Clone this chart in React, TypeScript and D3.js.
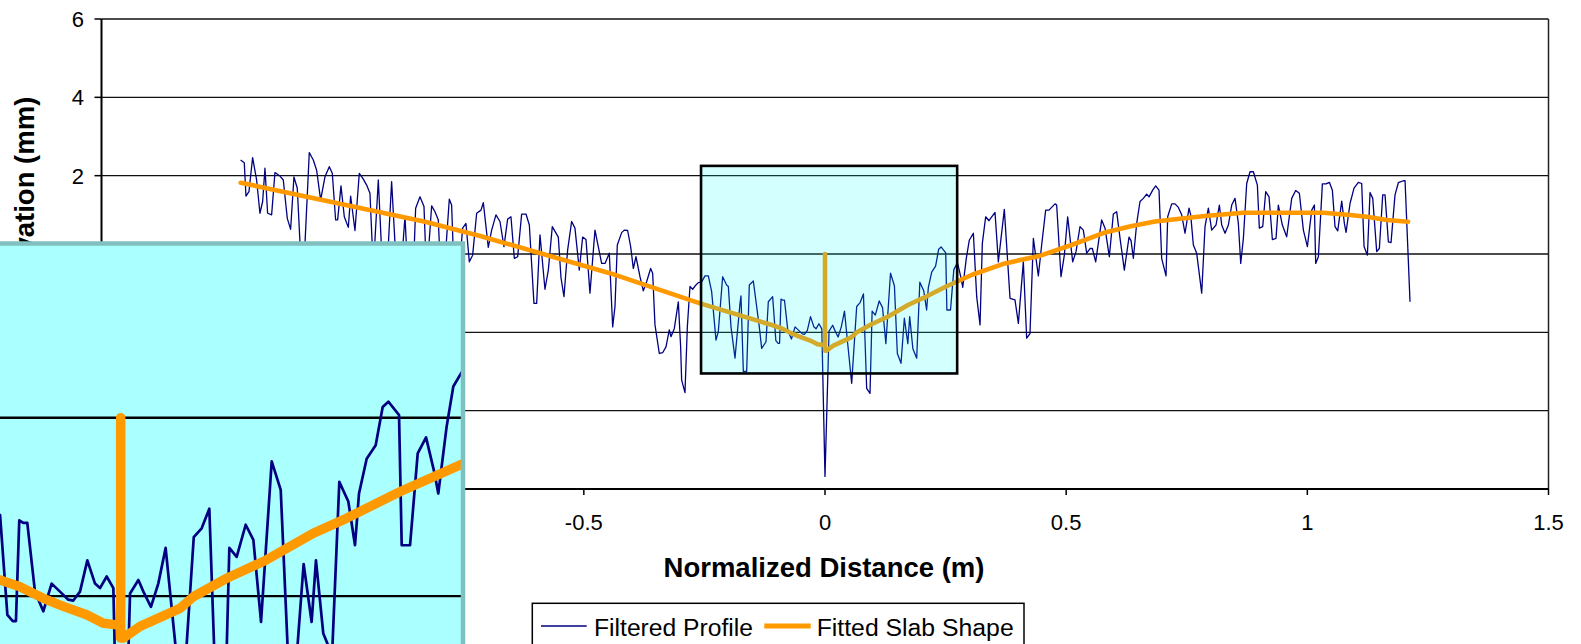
import React from "react";
import * as d3 from "d3";

// ---- data ----
const X_TICKS = [-1.5, -1, -0.5, 0, 0.5, 1, 1.5];
const Y_TICKS = [-6, -4, -2, 0, 2, 4, 6];
const X_TITLE = "Normalized Distance (m)";
const Y_TITLE = "Elevation (mm)";
const LEGEND = ["Filtered Profile", "Fitted Slab Shape"];
const BOX_X = [-0.257, 0.274];
const BOX_Y = [-3.05, 2.25];

const PROFILE: [number, number][] = [
  [-1.2116, 2.4], [-1.204, 2.33], [-1.2005, 1.48], [-1.1943, 1.59], [-1.1867, 2.46], [-1.1784, 1.89],
  [-1.1715, 1.04], [-1.1659, 1.34], [-1.1611, 2.19], [-1.1556, 1.04], [-1.1473, 1.0], [-1.1404, 2.08],
  [-1.13, 1.99], [-1.1231, 1.89], [-1.1148, 0.91], [-1.1079, 0.63], [-1.101, 1.97], [-1.0941, 1.68],
  [-1.0865, -0.2], [-1.0803, -0.3], [-1.0692, 2.59], [-1.0609, 2.4], [-1.054, 2.14], [-1.0457, 1.38],
  [-1.0367, 1.97], [-1.0277, 2.23], [-1.0215, 2.06], [-1.0146, 0.87], [-1.0104, 0.87], [-1.0035, 1.74],
  [-0.9966, 0.95], [-0.9883, 0.68], [-0.9835, 1.48], [-0.9745, 0.6], [-0.9655, 2.06], [-0.9572, 1.91],
  [-0.9503, 1.76], [-0.9434, 1.55], [-0.9365, -0.4], [-0.9261, 1.89], [-0.9178, -0.3], [-0.9088, -0.6],
  [-0.8985, 1.85], [-0.8881, -0.5], [-0.8777, -0.2], [-0.8708, 0.95], [-0.8653, -0.4], [-0.8536, -0.5],
  [-0.8487, 1.17], [-0.8397, 1.46], [-0.8314, 1.21], [-0.8259, -0.6], [-0.8155, 1.23], [-0.8086, 1.08],
  [-0.8017, 0.87], [-0.7969, -0.5], [-0.7879, -0.2], [-0.7789, 1.4], [-0.7741, 1.25], [-0.7685, -0.7],
  [-0.7582, -0.4], [-0.7513, 0.66], [-0.7444, 0.78], [-0.7374, -0.2], [-0.7305, -0.03], [-0.7222, 1.04],
  [-0.7132, 1.12], [-0.7084, 1.31], [-0.6981, 0.17], [-0.6911, 0.61], [-0.6822, 1.0], [-0.6739, 0.83],
  [-0.6656, 0.19], [-0.658, 0.89], [-0.6511, 0.95], [-0.6441, -0.11], [-0.6372, -0.07], [-0.6289, 1.02],
  [-0.6199, 1.02], [-0.613, 0.74], [-0.6034, -1.26], [-0.5978, -1.26], [-0.5909, 0.49], [-0.5806, -0.9],
  [-0.5736, -0.41], [-0.5654, 0.7], [-0.5529, 0.43], [-0.5474, -0.6], [-0.5412, -1.09], [-0.5336, 0.1],
  [-0.5253, 0.83], [-0.5184, 0.66], [-0.5094, -0.41], [-0.5025, 0.43], [-0.4955, 0.37], [-0.4873, -1.0],
  [-0.4769, 0.61], [-0.4631, -0.24], [-0.4561, -0.24], [-0.4472, 0.02], [-0.4402, -1.86], [-0.4354, -1.34],
  [-0.4306, 0.23], [-0.4216, 0.545], [-0.4161, 0.61], [-0.4092, 0.6], [-0.4029, 0.19], [-0.3974, -0.37],
  [-0.3919, -0.07], [-0.3836, -0.58], [-0.3767, -0.94], [-0.3698, -0.71], [-0.3615, -0.37], [-0.3573, -0.49],
  [-0.3525, -1.81], [-0.3435, -2.54], [-0.3366, -2.52], [-0.3297, -2.37], [-0.3228, -1.94], [-0.3193, -2.11],
  [-0.3124, -1.9], [-0.3041, -1.22], [-0.2993, -2.37], [-0.2972, -3.22], [-0.2903, -3.54], [-0.2854, -1.86],
  [-0.2799, -0.83], [-0.2744, -0.9], [-0.2675, -0.79], [-0.2626, -0.73], [-0.2557, -0.71], [-0.2488, -0.56],
  [-0.2419, -0.56], [-0.235, -0.96], [-0.226, -2.2], [-0.2212, -1.98], [-0.2122, -0.58], [-0.2039, -0.79],
  [-0.2004, -0.83], [-0.1949, -1.86], [-0.1866, -2.66], [-0.1762, -1.26], [-0.1742, -1.07], [-0.1693, -3.0],
  [-0.1624, -3.0], [-0.1569, -0.79], [-0.1486, -0.69], [-0.1362, -1.86], [-0.1313, -2.41], [-0.1223, -2.24],
  [-0.1175, -1.22], [-0.1085, -1.09], [-0.1019, -2.21], [-0.0971, -2.28], [-0.0942, -2.28], [-0.0912, -1.15],
  [-0.0876, -1.18], [-0.084, -1.18], [-0.0771, -1.95], [-0.0696, -2.17], [-0.0621, -1.86], [-0.0546, -1.95],
  [-0.0471, -2.04], [-0.0426, -2.05], [-0.0366, -1.95], [-0.03, -1.6], [-0.0231, -1.86], [-0.0186, -1.91],
  [-0.0126, -1.78], [-0.0066, -1.91], [0.0, -5.68], [0.0084, -1.97], [0.0159, -1.82], [0.0204, -1.95],
  [0.0272, -2.12], [0.0338, -1.86], [0.0404, -1.46], [0.0484, -2.45], [0.0553, -3.3], [0.0657, -1.34],
  [0.0728, -1.24], [0.0797, -1.02], [0.0864, -3.43], [0.0933, -3.56], [0.0977, -1.46], [0.1043, -1.56],
  [0.1124, -1.2], [0.1193, -1.37], [0.1262, -2.29], [0.1358, -0.49], [0.1439, -0.81], [0.15, -2.54],
  [0.1576, -2.79], [0.1645, -1.64], [0.1717, -2.29], [0.1756, -1.6], [0.1822, -2.42], [0.1901, -2.66],
  [0.1966, -0.72], [0.2047, -0.94], [0.2107, -1.43], [0.2143, -0.85], [0.2212, -0.46], [0.2293, -0.31],
  [0.2356, 0.12], [0.2407, 0.18], [0.2503, 0.03], [0.2527, -1.43], [0.2602, -1.43], [0.2671, -0.4],
  [0.2746, -0.22], [0.282, -0.61], [0.2856, -0.85], [0.2931, -0.1], [0.2991, 0.35], [0.3076, 0.53],
  [0.3145, -1.09], [0.3214, -1.81], [0.3262, 0.27], [0.3331, 0.95], [0.34, 0.85], [0.3456, 0.95],
  [0.3525, 1.06], [0.3594, -0.2], [0.3718, 1.14], [0.3836, -1.13], [0.3939, -1.17], [0.4009, -1.77],
  [0.4112, -0.2], [0.4181, -2.15], [0.425, -2.03], [0.432, 0.4], [0.4423, -0.56], [0.4492, 0.23],
  [0.4575, 1.12], [0.4644, 1.12], [0.4769, 1.28], [0.4803, 1.25], [0.4893, -0.58], [0.4962, -0.03],
  [0.5031, 0.95], [0.5135, -0.2], [0.5204, 0.06], [0.5287, 0.7], [0.5356, 0.61], [0.5425, 0.02],
  [0.5495, 0.14], [0.5543, 0.14], [0.5612, -0.2], [0.5736, 0.87], [0.5806, 0.66], [0.5895, -0.07],
  [0.5978, 1.02], [0.6047, 1.08], [0.6117, 0.4], [0.6206, -0.41], [0.6303, 0.43], [0.6345, 0.34],
  [0.6393, -0.11], [0.6462, 0.78], [0.6531, 1.34], [0.66, 1.42], [0.6669, 1.53], [0.6718, 1.46],
  [0.6794, 1.63], [0.6856, 1.74], [0.6925, 1.63], [0.698, -0.11], [0.707, -0.56], [0.7105, 0.95],
  [0.7188, 1.28], [0.7257, 1.28], [0.7326, 1.19], [0.7395, 1.0], [0.7464, 0.53], [0.7547, 1.17],
  [0.7582, 1.0], [0.7637, 0.23], [0.7706, 0.02], [0.781, -1.0], [0.7879, 0.7], [0.7948, 1.17],
  [0.8017, 0.61], [0.8107, 0.74], [0.8176, 1.25], [0.8225, 0.74], [0.8294, 0.53], [0.8363, 0.74],
  [0.8432, 1.25], [0.8501, 1.42], [0.857, 0.78], [0.8619, -0.24], [0.8674, 0.4], [0.8743, 1.8],
  [0.8812, 2.1], [0.8881, 2.1], [0.8964, 1.76], [0.9005, 0.66], [0.9075, 0.7], [0.9137, 1.59],
  [0.9206, 1.46], [0.9275, 0.37], [0.9351, 0.4], [0.9399, 1.25], [0.9482, 0.74], [0.9572, 0.44],
  [0.9676, 1.42], [0.9759, 1.62], [0.9835, 1.55], [0.9918, 0.61], [1.0001, 0.19], [1.0091, 1.12],
  [1.0146, 1.25], [1.0173, -0.24], [1.0229, -0.07], [1.0312, 1.79], [1.0388, 1.79], [1.0457, 1.83],
  [1.0519, 1.63], [1.0574, 0.7], [1.063, 0.59], [1.0713, 1.35], [1.0768, 0.78], [1.0803, 0.55],
  [1.0885, 1.29], [1.0968, 1.68], [1.1058, 1.83], [1.1127, 1.8], [1.1176, 0.19], [1.1245, -0.03],
  [1.13, 1.57], [1.1356, 1.42], [1.1438, 0.06], [1.1493, 0.14], [1.1563, 1.51], [1.1611, 1.51],
  [1.168, 0.31], [1.1735, 0.29], [1.1818, 1.51], [1.1887, 1.82], [1.1991, 1.87], [1.2026, 1.87],
  [1.2129, -1.22],
];

const SLAB: [number, number][] = [
  [-1.2115, 1.82], [-0.829, 0.825], [-0.715, 0.46], [-0.446, -0.49], [-0.259, -1.26], [-0.1085, -1.82],
  [-0.0906, -1.895], [-0.0696, -2.025], [-0.0516, -2.115], [-0.0306, -2.21], [-0.0156, -2.305],
  [-0.005, -2.32], [0, -2.33], [0, 0], [0, -2.47], [0.0023, -2.47], [0.0174, -2.34], [0.0533, -2.137],
  [0.0653, -2.007], [0.0953, -1.8], [0.131, -1.595], [0.173, -1.296], [0.203, -1.128], [0.251, -0.83],
  [0.305, -0.53], [0.373, -0.24], [0.41, -0.14], [0.442, -0.06], [0.511, 0.23], [0.5806, 0.55],
  [0.634, 0.71], [0.684, 0.83], [0.788, 0.97], [0.867, 1.055], [1.033, 1.055], [1.0886, 0.995],
  [1.123, 0.95], [1.165, 0.87], [1.2088, 0.825],
];

const FONT = "'Liberation Sans', Arial, Helvetica, sans-serif";
const NAVY = "#000080";
const ORANGE = "#FF9900";

export default function App() {
  const W = 1581;
  const H = 644;
  const x = d3.scaleLinear().domain([-1.5, 1.5]).range([101.5, 1548.5]);
  const y = d3.scaleLinear().domain([-6, 6]).range([489, 19]);
  // magnified inset scales
  const xi = d3.scaleLinear().domain([0, 1]).range([120.7, 120.7 + 1112]);
  const yi = d3.scaleLinear().domain([0, -2]).range([417.7, 596.1]);

  const line = d3.line<[number, number]>().x((d) => x(d[0])).y((d) => y(d[1]));
  const lineIn = d3.line<[number, number]>().x((d) => xi(d[0])).y((d) => yi(d[1]));

  const [x0, x1] = x.range();
  const [yb, yt] = y.range();

  const insetLeft = -20;
  const insetRight = 463;
  const insetTop = 243.5;

  return (
    <svg
      width={W}
      height={H}
      style={{ position: "absolute", left: 0, top: 0, background: "#fff" }}
      fontFamily={FONT}
    >
      <defs>
        <clipPath id="insetClip">
          <rect x={0} y={insetTop + 2} width={insetRight - 2} height={H} />
        </clipPath>
      </defs>
      <rect x={0} y={0} width={W} height={H} fill="#fff" />

      {/* gridlines */}
      {Y_TICKS.map((t) => (
        <line key={"g" + t} x1={x0} x2={x1} y1={y(t)} y2={y(t)} stroke="#111" strokeWidth={1.3} />
      ))}
      {/* right border */}
      <line x1={x1} x2={x1} y1={yt} y2={yb} stroke="#222" strokeWidth={1.5} />

      {/* axes */}
      <line x1={x0} x2={x0} y1={yt} y2={yb} stroke="#000" strokeWidth={2} />
      <line x1={x0} x2={x1} y1={yb} y2={yb} stroke="#000" strokeWidth={2} />
      {Y_TICKS.map((t) => (
        <line key={"yt" + t} x1={x0 - 7} x2={x0} y1={y(t)} y2={y(t)} stroke="#000" strokeWidth={1.5} />
      ))}
      {X_TICKS.map((t) => (
        <line key={"xt" + t} x1={x(t)} x2={x(t)} y1={yb} y2={yb + 6} stroke="#000" strokeWidth={1.5} />
      ))}

      {/* series */}
      <path d={line(PROFILE) || ""} fill="none" stroke={NAVY} strokeWidth={1.3} strokeLinejoin="round" />
      <path d={line(SLAB) || ""} fill="none" stroke={ORANGE} strokeWidth={4.6} strokeLinejoin="round" strokeLinecap="round" />

      {/* zoom box */}
      <rect
        x={x(BOX_X[0])}
        y={y(BOX_Y[1])}
        width={x(BOX_X[1]) - x(BOX_X[0])}
        height={y(BOX_Y[0]) - y(BOX_Y[1])}
        fill="#00FFFF"
        fillOpacity={0.17}
        stroke="none"
      />
      <rect
        x={x(BOX_X[0])}
        y={y(BOX_Y[1])}
        width={x(BOX_X[1]) - x(BOX_X[0])}
        height={y(BOX_Y[0]) - y(BOX_Y[1])}
        fill="none"
        stroke="#000"
        strokeWidth={2.6}
      />

      {/* tick labels */}
      {Y_TICKS.map((t) => (
        <text key={"yl" + t} x={84} y={y(t) + 8} textAnchor="end" fontSize={22} fill="#000">
          {String(t)}
        </text>
      ))}
      {X_TICKS.map((t) => (
        <text key={"xl" + t} x={x(t)} y={530} textAnchor="middle" fontSize={22} fill="#000">
          {String(t)}
        </text>
      ))}

      {/* axis titles */}
      <text x={824} y={577} textAnchor="middle" fontSize={27.5} fontWeight="bold" fill="#000">
        {X_TITLE}
      </text>
      <text
        transform={`translate(34, 96.7) rotate(-90)`}
        textAnchor="end"
        fontSize={27.5}
        fontWeight="bold"
        fill="#000"
      >
        {Y_TITLE}
      </text>

      {/* inset */}
      <rect x={insetLeft} y={insetTop} width={insetRight - insetLeft} height={H} fill="#AAFFFF" />
      <g clipPath="url(#insetClip)">
        {Y_TICKS.map((t) => (
          <line key={"ig" + t} x1={0} x2={insetRight} y1={yi(t)} y2={yi(t)} stroke="#000" strokeWidth={2.4} />
        ))}
        <path d={lineIn(PROFILE) || ""} fill="none" stroke={NAVY} strokeWidth={2.7} strokeLinejoin="round" />
        <path d={lineIn(SLAB) || ""} fill="none" stroke={ORANGE} strokeWidth={9.5} strokeLinejoin="round" strokeLinecap="round" />
      </g>
      <rect
        x={insetLeft}
        y={insetTop}
        width={insetRight - insetLeft}
        height={H}
        fill="none"
        stroke="#80C0C0"
        strokeWidth={4.5}
      />

      {/* legend */}
      <rect x={532.3} y={603.3} width={1024 - 532.3} height={60} fill="#fff" stroke="#000" strokeWidth={1.5} />
      <line x1={541} x2={586.7} y1={626} y2={626} stroke={NAVY} strokeWidth={1.5} />
      <text x={594} y={635.5} fontSize={23} fill="#000" textLength={159} lengthAdjust="spacingAndGlyphs">
        {LEGEND[0]}
      </text>
      <line x1={764.3} x2={810.7} y1={626} y2={626} stroke={ORANGE} strokeWidth={5} />
      <text x={816.7} y={635.5} fontSize={23} fill="#000" textLength={197} lengthAdjust="spacingAndGlyphs">
        {LEGEND[1]}
      </text>
    </svg>
  );
}
